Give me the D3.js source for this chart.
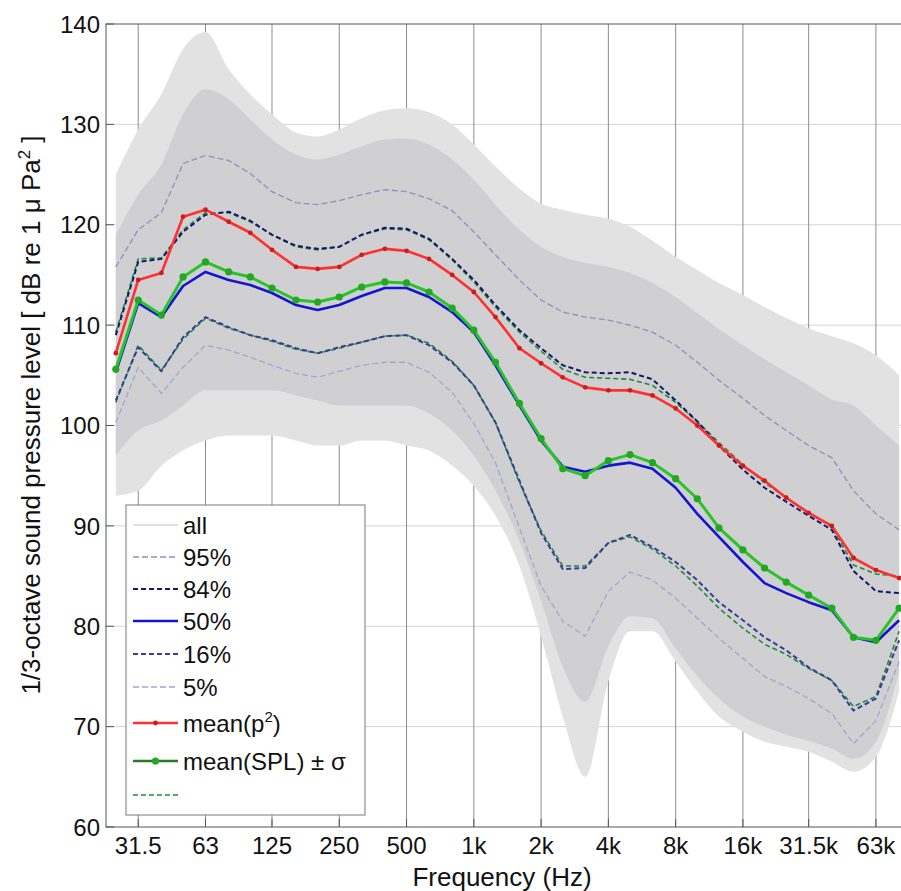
<!DOCTYPE html>
<html>
<head>
<meta charset="utf-8">
<script src="https://cdn.jsdelivr.net/npm/d3@7/dist/d3.min.js"></script>
<style>
  body { margin: 0; background: #fff; }
  svg { display: block; }
  text { font-family: "Liberation Sans", Arial, sans-serif; fill: #111; }
</style>
</head>
<body>
<div id="chart"></div>
<script>
// 1/3-octave band centres (Hz)
const bands = [25, 31.5, 40, 50, 63, 80, 100, 125, 160, 200, 250, 315, 400, 500, 630, 800,
  1000, 1250, 1600, 2000, 2500, 3150, 4000, 5000, 6300, 8000, 10000, 12500, 16000, 20000,
  25000, 31500, 40000, 50000, 63000, 80000];

const tickFreqs = [31.5, 63, 125, 250, 500, 1000, 2000, 4000, 8000, 16000, 31500, 63000];
const tickLabels = ['31.5', '63', '125', '250', '500', '1k', '2k', '4k', '8k', '16k', '31.5k', '63k'];
const yTicks = [60, 70, 80, 90, 100, 110, 120, 130, 140];

// envelope of all spectra (grey cloud): sparse outer and dense inner bounds
const allOuterHi = [125, 129.5, 133, 137.5, 139.2, 135.5, 133, 131, 129.2, 128.8, 129.5, 130.6, 131.4, 131.6, 131.2, 130,
  128, 125.8, 123.6, 122.1, 121.5, 121, 120.6, 119.8, 118.4, 116.8, 115.5, 114.2, 113, 111.8, 110.7, 109.7, 108.9, 108.2, 107, 105];
const allInnerHi = [119, 123, 126, 131, 133.5, 132.5, 130.5, 128.5, 127, 126.5, 127, 127.8, 128.5, 128.6, 128, 126.5,
  124.5, 122, 119.5, 117.8, 116.8, 116.2, 115.8, 115.2, 114.2, 112.8, 111.2, 109.6, 108, 106.6, 105.3, 104, 102.6, 102, 100, 98];
const allInnerLo = [97, 99.5, 100.5, 102, 103.5, 103.5, 103.5, 103.5, 103, 102.5, 102, 102, 102, 102, 101.2, 99.5,
  97, 93.5, 88.5, 82.5, 76, 72.5, 78, 81, 80.8, 77.8, 75, 72.8, 71, 70, 69.2, 68.6, 67.8, 66.8, 68.5, 75.5];
const allOuterLo = [93, 93.5, 96, 97.5, 98.5, 99, 99, 99, 98.5, 98, 98, 98.5, 98.5, 98, 97.5, 96,
  94, 91, 86, 79, 71, 65, 74.5, 79.5, 79.5, 76.5, 73.5, 71, 69.5, 68.5, 68, 67.5, 66.5, 65.5, 67, 73.5];

// percentiles
const p95 = [115.8, 119.5, 121.2, 126.1, 126.9, 126.4, 125.1, 123.3, 122.2, 122.0, 122.4, 123.0, 123.5, 123.3, 122.6, 121.4,
  119.3, 117.0, 114.5, 112.5, 111.3, 110.8, 110.5, 110.0, 109.3, 108.0, 106.3, 104.5, 102.7, 101.0, 99.5, 98.0, 96.8, 93.5, 91.2, 89.6];
const p84 = [109.0, 116.3, 116.6, 119.3, 121.0, 121.3, 120.4, 119.0, 117.9, 117.6, 117.8, 119.0, 119.7, 119.6, 118.6, 116.6,
  114.5, 112.0, 109.5, 107.7, 106.0, 105.3, 105.2, 105.3, 104.6, 102.5, 100.4, 98.0, 95.6, 93.8, 92.4, 91.0, 89.6, 85.5, 83.5, 83.3];
const p50 = [105.3, 112.2, 110.8, 113.9, 115.3, 114.5, 114.0, 113.2, 112.0, 111.5, 112.0, 112.9, 113.7, 113.7, 112.8, 111.3,
  109.3, 106.0, 102.0, 98.5, 95.9, 95.4, 96.0, 96.3, 95.7, 93.8, 91.2, 88.9, 86.4, 84.3, 83.3, 82.4, 81.6, 78.9, 78.4, 80.6];
const p16 = [102.5, 107.8, 105.4, 108.8, 110.8, 109.8, 109.0, 108.5, 107.7, 107.2, 107.8, 108.3, 108.9, 109.0, 108.0, 106.3,
  104.0, 100.3, 94.5, 89.3, 85.7, 85.8, 88.3, 89.1, 87.9, 86.4, 84.6, 82.4, 80.6, 78.9, 77.6, 75.9, 74.6, 71.6, 72.8, 78.6];
const p5 = [100.3, 105.8, 103.2, 105.8, 108.0, 107.5, 106.8, 106.0, 105.2, 104.8, 105.4, 106.0, 106.3, 106.3, 105.3, 103.3,
  100.2, 96.3, 89.8, 84.0, 80.5, 79.0, 83.5, 85.4, 84.6, 82.8, 80.8, 78.8, 76.8, 75.0, 74.0, 72.8, 71.3, 68.3, 70.6, 76.5];

// means
const meanP2 = [107.2, 114.5, 115.2, 120.8, 121.5, 120.3, 119.2, 117.5, 115.8, 115.6, 115.8, 117.0, 117.6, 117.4, 116.6, 115.0,
  113.3, 110.8, 107.7, 106.2, 104.8, 103.8, 103.5, 103.5, 103.0, 101.7, 100.0, 98.0, 96.0, 94.5, 92.8, 91.3, 90.0, 86.8, 85.6, 84.8];
const meanSpl = [105.6, 112.5, 111.0, 114.8, 116.3, 115.3, 114.8, 113.7, 112.5, 112.3, 112.8, 113.8, 114.3, 114.2, 113.3, 111.7,
  109.5, 106.3, 102.2, 98.7, 95.7, 95.0, 96.5, 97.1, 96.3, 94.7, 92.7, 89.8, 87.6, 85.8, 84.4, 83.1, 81.8, 78.9, 78.6, 81.8];
const meanSplPlus = [109.3, 116.6, 116.7, 119.5, 121.2, 121.2, 120.3, 119.0, 117.8, 117.5, 117.8, 119.0, 119.6, 119.5, 118.5, 116.5,
  114.3, 111.8, 109.3, 107.4, 105.6, 104.8, 104.7, 104.6, 104.0, 102.3, 100.4, 98.3, 96.1, 94.3, 92.8, 91.3, 89.9, 86.1, 85.2, 85.0];
const meanSplMinus = [102.3, 108.0, 105.5, 108.6, 110.7, 109.7, 109.0, 108.4, 107.6, 107.2, 107.7, 108.3, 108.9, 109.0, 108.2, 106.4,
  104.0, 100.3, 94.3, 89.5, 86.0, 86.0, 88.3, 88.9, 87.7, 86.0, 84.0, 81.8, 79.8, 78.2, 77.2, 75.8, 74.6, 72.0, 73.0, 79.5];

const W = 901, H = 891;
const plot = { left: 106, right: 905, top: 24, bottom: 827 };

const svg = d3.select('#chart').append('svg')
  .attr('width', W).attr('height', H)
  .attr('viewBox', [0, 0, W, H]);

const x = d3.scaleLog().domain([22.6, 85000]).range([plot.left, plot.right]);
const y = d3.scaleLinear().domain([60, 140]).range([plot.bottom, plot.top]);

svg.append('defs').append('clipPath').attr('id', 'plotClip')
  .append('rect')
  .attr('x', plot.left).attr('y', plot.top)
  .attr('width', plot.right - plot.left).attr('height', plot.bottom - plot.top);

// grid
const grid = svg.append('g');
grid.selectAll('line.h').data(yTicks.slice(1, -1)).join('line')
  .attr('x1', plot.left).attr('x2', plot.right)
  .attr('y1', d => y(d)).attr('y2', d => y(d))
  .attr('stroke', '#d4d4d4').attr('stroke-width', 1);
grid.selectAll('line.v').data(tickFreqs).join('line')
  .attr('x1', d => x(d)).attr('x2', d => x(d))
  .attr('y1', plot.top).attr('y2', plot.bottom)
  .attr('stroke', '#8c8c8c').attr('stroke-width', 1);

const g = svg.append('g').attr('clip-path', 'url(#plotClip)');

// grey cloud of all spectra
const band = (hi, lo) => d3.area()
  .x((d, i) => x(bands[i]))
  .y0((d, i) => y(lo[i]))
  .y1((d, i) => y(hi[i]))
  .curve(d3.curveMonotoneX)(bands);

g.append('path').attr('d', band(allOuterHi, allOuterLo)).attr('fill', '#e2e2e2');
g.append('path').attr('d', band(allInnerHi, allInnerLo)).attr('fill', '#d0d0d3');

const line = d3.line()
  .x((d, i) => x(bands[i]))
  .y(d => y(d))
  .curve(d3.curveLinear);

const styles = {
  all: { stroke: '#c4c4c4', width: 1.2, dash: null },
  p95: { stroke: '#8e8ec4', width: 1.3, dash: '6,3' },
  p84: { stroke: '#16166e', width: 2, dash: '5,3' },
  p50: { stroke: '#1515d0', width: 2.6, dash: null },
  p16: { stroke: '#3a3a9a', width: 2, dash: '5,3' },
  p5: { stroke: '#a4a4d4', width: 1.3, dash: '6,3' },
  meanP2: { stroke: '#ff3030', width: 2.6, dash: null },
  meanSpl: { stroke: '#28c428', width: 3, dash: null },
  sigma: { stroke: '#1e8a3c', width: 1.6, dash: '5,3' }
};

function drawLine(values, s) {
  g.append('path')
    .attr('d', line(values))
    .attr('fill', 'none')
    .attr('stroke', s.stroke)
    .attr('stroke-width', s.width)
    .attr('stroke-dasharray', s.dash)
    .attr('stroke-linejoin', 'round');
}

drawLine(p95, styles.p95);
drawLine(p5, styles.p5);
drawLine(meanSplPlus, styles.sigma);
drawLine(meanSplMinus, styles.sigma);
drawLine(p84, styles.p84);
drawLine(p16, styles.p16);
drawLine(p50, styles.p50);
drawLine(meanSpl, styles.meanSpl);
g.selectAll('circle.spl').data(meanSpl).join('circle')
  .attr('cx', (d, i) => x(bands[i])).attr('cy', d => y(d))
  .attr('r', 3.6).attr('fill', '#22a822');
drawLine(meanP2, styles.meanP2);
g.selectAll('circle.p2').data(meanP2).join('circle')
  .attr('cx', (d, i) => x(bands[i])).attr('cy', d => y(d))
  .attr('r', 2.4).attr('fill', '#c81e1e');

// axes frame and ticks
const frame = svg.append('g').attr('stroke', '#555').attr('stroke-width', 1);
frame.append('rect')
  .attr('x', plot.left).attr('y', plot.top)
  .attr('width', plot.right - plot.left).attr('height', plot.bottom - plot.top)
  .attr('fill', 'none');
frame.selectAll('line.yt').data(yTicks).join('line')
  .attr('x1', plot.left).attr('x2', plot.left + 8)
  .attr('y1', d => y(d)).attr('y2', d => y(d));
frame.selectAll('line.xt').data(tickFreqs).join('line')
  .attr('x1', d => x(d)).attr('x2', d => x(d))
  .attr('y1', plot.bottom).attr('y2', plot.bottom - 8);

svg.append('g').selectAll('text').data(yTicks).join('text')
  .attr('x', 100).attr('y', d => y(d)).attr('dy', '0.36em')
  .attr('text-anchor', 'end').attr('font-size', 24)
  .text(d => d);

svg.append('g').selectAll('text').data(tickFreqs).join('text')
  .attr('x', d => x(d)).attr('y', 854)
  .attr('text-anchor', 'middle').attr('font-size', 24)
  .text((d, i) => tickLabels[i]);

svg.append('text')
  .attr('x', 502).attr('y', 886)
  .attr('text-anchor', 'middle').attr('font-size', 26)
  .text('Frequency (Hz)');

const yl = svg.append('text')
  .attr('transform', 'translate(40,415) rotate(-90)')
  .attr('text-anchor', 'middle').attr('font-size', 26);
yl.append('tspan').text('1/3-octave sound pressure level [ dB re 1 \u03bc Pa');
yl.append('tspan').attr('font-size', 17).attr('dy', -10).text('2');
yl.append('tspan').attr('dy', 10).text(' ]');

// legend
const legendItems = [
  { key: 'all', label: 'all' },
  { key: 'p95', label: '95%' },
  { key: 'p84', label: '84%' },
  { key: 'p50', label: '50%' },
  { key: 'p16', label: '16%' },
  { key: 'p5', label: '5%' },
  { key: 'meanP2', label: 'mean(p', sup: '2', tail: ')', marker: { r: 2.4, fill: '#c81e1e' } },
  { key: 'meanSpl', label: 'mean(SPL) \u00b1 \u03c3', marker: { r: 3.6, fill: '#22a822' } },
  { key: 'sigma', label: '' }
];
const legendRowY = [525, 557, 589, 621, 654, 687, 723, 761, 795];

const lg = svg.append('g');
lg.append('rect')
  .attr('x', 126).attr('y', 505).attr('width', 239).attr('height', 310)
  .attr('fill', '#fff').attr('stroke', '#7a7a7a').attr('stroke-width', 1);

legendItems.forEach((item, i) => {
  const s = styles[item.key];
  const yy = legendRowY[i];
  lg.append('line')
    .attr('x1', 133).attr('x2', 178).attr('y1', yy).attr('y2', yy)
    .attr('stroke', item.key === 'meanSpl' ? '#2a7a2a' : s.stroke)
    .attr('stroke-width', Math.min(s.width, 2.4))
    .attr('stroke-dasharray', s.dash);
  if (item.marker) {
    lg.append('circle').attr('cx', 155.5).attr('cy', yy)
      .attr('r', item.marker.r).attr('fill', item.marker.fill);
  }
  const t = lg.append('text').attr('x', 183).attr('y', yy).attr('dy', '0.36em')
    .attr('font-size', 24);
  t.append('tspan').text(item.label);
  if (item.sup) {
    t.append('tspan').attr('font-size', 15).attr('dy', -10).text(item.sup);
    t.append('tspan').attr('dy', 10).text(item.tail);
  }
});
</script>
</body>
</html>
